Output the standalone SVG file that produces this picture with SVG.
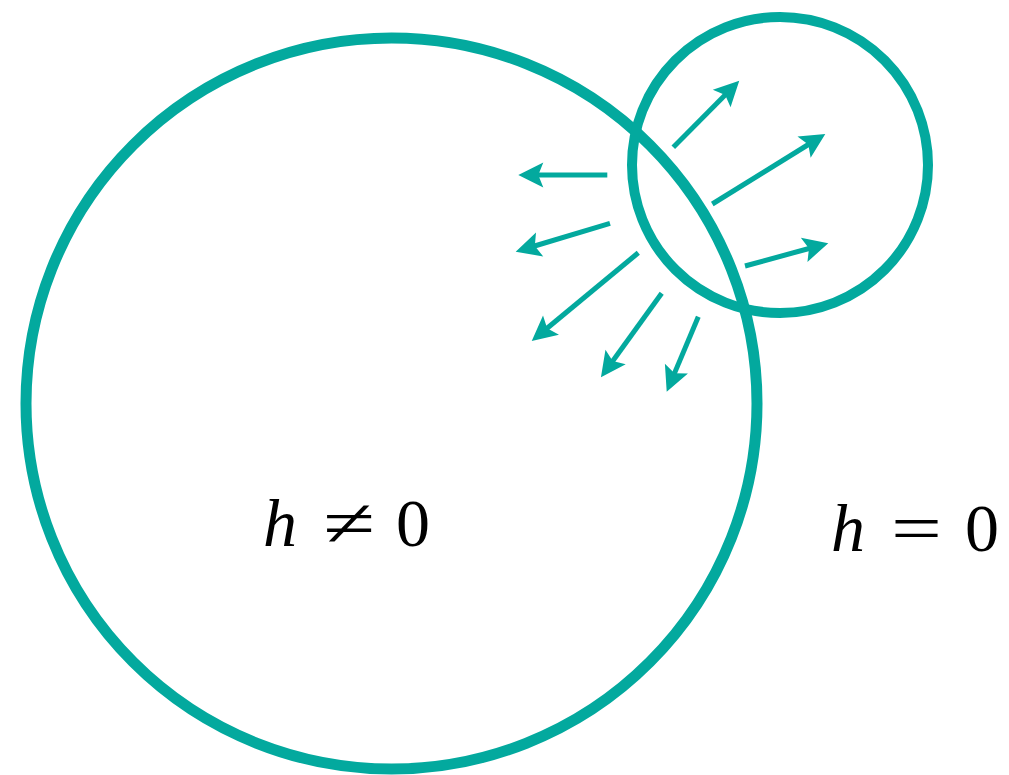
<svg xmlns="http://www.w3.org/2000/svg" width="1009" height="775" viewBox="0 0 1009 775">
<style>
.c{fill:none;stroke:#03A99E}
.a{stroke:#03A99E;stroke-width:5;fill:none;marker-end:url(#ah)}
.t{font-family:"Liberation Serif",serif;font-size:68px;fill:#000}
.i{font-style:italic}
</style>
<defs>
<marker id="ah" markerUnits="userSpaceOnUse" viewBox="-10 -15 32 30" markerWidth="32" markerHeight="30" refX="0" refY="0" orient="auto" overflow="visible">
<path d="M-7,-12.5 L18,0 L-7,12.5 L-2,0 Z" fill="#03A99E"/>
</marker>
</defs>
<rect width="1009" height="775" fill="#fff"/>
<g id="region-big"><circle class="c" cx="391.5" cy="403.5" r="365.5" stroke-width="11"/></g>
<g id="region-small"><circle class="c" cx="780" cy="165" r="148" stroke-width="10"/></g>
<g id="connectors">
<line class="a" x1="673.3" y1="147.3" x2="726.6" y2="93.5"/>
<line class="a" x1="712.3" y1="204" x2="810" y2="143.5"/>
<line class="a" x1="745" y1="266" x2="810.9" y2="248"/>
<line class="a" x1="607.3" y1="175" x2="536.3" y2="175"/>
<line class="a" x1="610" y1="223.3" x2="532.9" y2="246.5"/>
<line class="a" x1="638.3" y1="252.7" x2="545.6" y2="329.5"/>
<line class="a" x1="661.7" y1="293.3" x2="611.5" y2="362.7"/>
<line class="a" x1="698.3" y1="316.7" x2="673.7" y2="375.1"/>
</g>
<g id="label-neq">
<text class="t i" x="263" y="546">h</text>
<text class="t" x="323" y="546" textLength="52" lengthAdjust="spacingAndGlyphs">≠</text>
<text class="t" x="396" y="546">0</text>
</g>
<g id="label-eq">
<text class="t i" x="831" y="551">h</text>
<text class="t" x="891" y="551" textLength="51" lengthAdjust="spacingAndGlyphs">=</text>
<text class="t" x="965" y="551">0</text>
</g>
</svg>
